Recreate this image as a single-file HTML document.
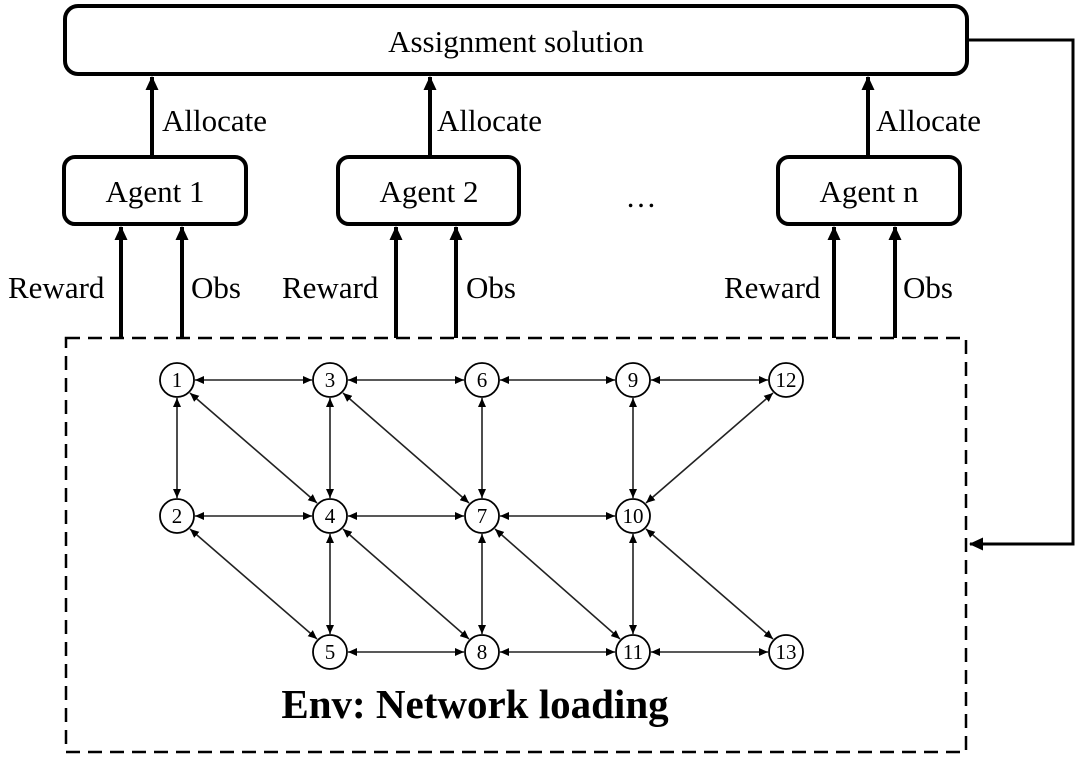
<!DOCTYPE html>
<html><head><style>body{margin:0;background:#fff}svg{display:block}</style></head><body>
<svg width="1080" height="757" viewBox="0 0 1080 757" xmlns="http://www.w3.org/2000/svg" font-family="Liberation Serif, serif">
<defs>
<marker id="sm" markerWidth="9" markerHeight="8" refX="9" refY="4" orient="auto-start-reverse" markerUnits="userSpaceOnUse"><path d="M0,0 L9,4 L0,8 z" fill="#000"/></marker>
<marker id="bigU" markerWidth="14" markerHeight="14" refX="13" refY="7" orient="auto" markerUnits="userSpaceOnUse"><path d="M0,0.5 L14,7 L0,13.5 z" fill="#000"/></marker>
</defs>
<rect x="65" y="6" width="902" height="68" rx="13" fill="#fff" stroke="#000" stroke-width="4"/>
<text x="516" y="52" font-size="31" text-anchor="middle">Assignment solution</text>
<g fill="#fff" stroke="#000" stroke-width="4">
<rect x="64" y="157" width="182" height="67" rx="11"/>
<rect x="338" y="157" width="181" height="67" rx="11"/>
<rect x="778" y="157" width="182" height="67" rx="11"/>
</g>
<g font-size="31" text-anchor="middle">
<text x="155" y="202">Agent 1</text>
<text x="429" y="202">Agent 2</text>
<text x="869" y="202">Agent n</text>
<text x="641" y="207">…</text>
</g>
<g stroke="#000" stroke-width="4" marker-end="url(#bigU)">
<line x1="152" y1="157" x2="152" y2="77"/>
<line x1="430" y1="157" x2="430" y2="77"/>
<line x1="868" y1="157" x2="868" y2="77"/>
<line x1="121" y1="338" x2="121" y2="227"/>
<line x1="182" y1="338" x2="182" y2="227"/>
<line x1="396" y1="338" x2="396" y2="227"/>
<line x1="456" y1="338" x2="456" y2="227"/>
<line x1="834" y1="338" x2="834" y2="227"/>
<line x1="895" y1="338" x2="895" y2="227"/>
</g>
<g font-size="31">
<text x="162" y="131">Allocate</text>
<text x="437" y="131">Allocate</text>
<text x="876" y="131">Allocate</text>
<text x="8" y="298">Reward</text>
<text x="191" y="298">Obs</text>
<text x="282" y="298">Reward</text>
<text x="466" y="298">Obs</text>
<text x="724" y="298">Reward</text>
<text x="903" y="298">Obs</text>
</g>
<polyline points="967,40 1073,40 1073,544 970,544" fill="none" stroke="#000" stroke-width="3" marker-end="url(#bigU)"/>
<rect x="66" y="338" width="900" height="414" fill="none" stroke="#000" stroke-width="2.5" stroke-dasharray="14,8"/>
<g stroke="#222" stroke-width="1.6" marker-start="url(#sm)" marker-end="url(#sm)">
<line x1="195" y1="380" x2="312" y2="380"/>
<line x1="348" y1="380" x2="464" y2="380"/>
<line x1="500" y1="380" x2="615" y2="380"/>
<line x1="651" y1="380" x2="768" y2="380"/>
<line x1="195" y1="516" x2="312" y2="516"/>
<line x1="348" y1="516" x2="464" y2="516"/>
<line x1="500" y1="516" x2="615" y2="516"/>
<line x1="348" y1="652" x2="464" y2="652"/>
<line x1="500" y1="652" x2="615" y2="652"/>
<line x1="651" y1="652" x2="768" y2="652"/>
<line x1="177" y1="398" x2="177" y2="498"/>
<line x1="330" y1="398" x2="330" y2="498"/>
<line x1="482" y1="398" x2="482" y2="498"/>
<line x1="633" y1="398" x2="633" y2="498"/>
<line x1="330" y1="534" x2="330" y2="634"/>
<line x1="482" y1="534" x2="482" y2="634"/>
<line x1="633" y1="534" x2="633" y2="634"/>
<line x1="190" y1="393" x2="317" y2="503"/>
<line x1="343" y1="393" x2="469" y2="503"/>
<line x1="773" y1="393" x2="646" y2="503"/>
<line x1="190" y1="529" x2="317" y2="639"/>
<line x1="343" y1="529" x2="469" y2="639"/>
<line x1="495" y1="529" x2="620" y2="639"/>
<line x1="646" y1="529" x2="773" y2="639"/>
</g>
<g fill="#fff" stroke="#000" stroke-width="1.8">
<circle cx="177" cy="380" r="17"/><circle cx="330" cy="380" r="17"/><circle cx="482" cy="380" r="17"/><circle cx="633" cy="380" r="17"/><circle cx="786" cy="380" r="17"/>
<circle cx="177" cy="516" r="17"/><circle cx="330" cy="516" r="17"/><circle cx="482" cy="516" r="17"/><circle cx="633" cy="516" r="17"/>
<circle cx="330" cy="652" r="17"/><circle cx="482" cy="652" r="17"/><circle cx="633" cy="652" r="17"/><circle cx="786" cy="652" r="17"/>
</g>
<g font-size="21" text-anchor="middle">
<text x="177" y="387">1</text><text x="330" y="387">3</text><text x="482" y="387">6</text><text x="633" y="387">9</text><text x="786" y="387">12</text>
<text x="177" y="523">2</text><text x="330" y="523">4</text><text x="482" y="523">7</text><text x="633" y="523">10</text>
<text x="330" y="659">5</text><text x="482" y="659">8</text><text x="633" y="659">11</text><text x="786" y="659">13</text>
</g>
<text x="475" y="718" font-size="41" font-weight="bold" text-anchor="middle">Env: Network loading</text>
</svg>
</body></html>
